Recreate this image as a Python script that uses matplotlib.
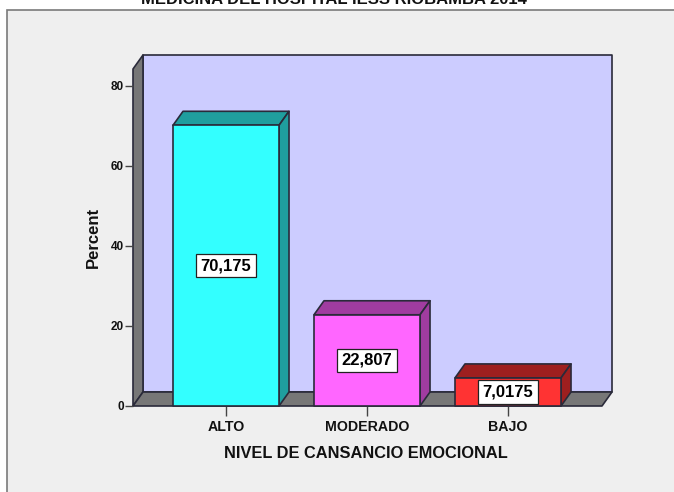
import matplotlib
matplotlib.use('Agg')
import matplotlib.pyplot as plt
from matplotlib.patches import Polygon, Rectangle

plt.rcParams['font.family'] = ['Liberation Sans', 'DejaVu Sans']

categories = ['ALTO', 'MODERADO', 'BAJO']
percent = [70.175, 22.807, 7.0175]
value_labels = ['70,175', '22,807', '7,0175']
front_colors = ['#33ffff', '#ff66ff', '#ff3333']
top_colors = ['#1f9e9e', '#a03ca0', '#9e1f1f']
side_colors = ['#1f9e9e', '#a03ca0', '#9e1f1f']
y_ticks = [0, 20, 40, 60, 80]
title = 'MEDICINA DEL HOSPITAL IESS RIOBAMBA 2014'
xlabel = 'NIVEL DE CANSANCIO EMOCIONAL'
ylabel = 'Percent'

W, H = 674, 492
fig = plt.figure(figsize=(W / 100, H / 100), dpi=100, facecolor='white')

# grey chart area behind everything
fig.add_artist(Rectangle((7 / W, -0.01), 1, (H - 10) / H + 0.01, transform=fig.transFigure,
                         facecolor='#efefef', edgecolor='#7a7a7a', linewidth=1.2, zorder=-1))

# front plane of the box, in pixels: x 133-602, y 69-406
ax = fig.add_axes([133 / W, (H - 406) / H, (602 - 133) / W, (406 - 69) / H])
ax.patch.set_visible(False)
x0, x1 = (133 - 226) / 141, (602 - 226) / 141
y0, y1 = 0, 84.25
ax.set_xlim(x0, x1)
ax.set_ylim(y0, y1)

dx, dy = 10 / 141, 3.5  # depth of the fake 3d
edge = '#2a2a3a'
lw = 1.2

def poly(pts, color, z=1):
    ax.add_patch(Polygon(pts, closed=True, facecolor=color, edgecolor=edge, linewidth=lw,
                         joinstyle='round', clip_on=False, zorder=z))

# back wall, side wall, floor
poly([(x0 + dx, y0 + dy), (x1 + dx, y0 + dy), (x1 + dx, y1 + dy), (x0 + dx, y1 + dy)], '#ccccff')
poly([(x0, y0), (x0 + dx, y0 + dy), (x0 + dx, y1 + dy), (x0, y1)], '#777777')
poly([(x0, y0), (x1, y0), (x1 + dx, y0 + dy), (x0 + dx, y0 + dy)], '#777777')

w = 0.376
for i, v in enumerate(percent):
    poly([(i - w, v), (i + w, v), (i + w + dx, v + dy), (i - w + dx, v + dy)], top_colors[i], 3)
    poly([(i + w, 0), (i + w + dx, dy), (i + w + dx, v + dy), (i + w, v)], side_colors[i], 3)
    poly([(i - w, 0), (i + w, 0), (i + w, v), (i - w, v)], front_colors[i], 3)
    ax.text(i, v / 2, value_labels[i], ha='center', va='center', fontsize=12, fontweight='bold',
            color='black', zorder=5,
            bbox=dict(boxstyle='square,pad=0.25', facecolor='white', edgecolor='#222222', linewidth=0.9))

for s in ax.spines.values():
    s.set_visible(False)
ax.set_xticks(range(len(categories)))
ax.set_xticklabels(categories, fontsize=10.2, fontweight='bold', color='#111111')
ax.set_yticks(y_ticks)
ax.set_yticklabels([str(t) for t in y_ticks], fontsize=8.5, fontweight='bold', color='#111111')
ax.tick_params(axis='x', length=7, width=1, color='#444444', pad=3)
ax.tick_params(axis='y', length=6, width=1, color='#444444', pad=0.5)

fig.text(366 / W, (H - 453) / H, xlabel, ha='center', va='center', fontsize=11.8, fontweight='bold', color='#111111')
fig.text(93 / W, (H - 237) / H, ylabel, ha='center', va='center', rotation=90, fontsize=12,
         fontweight='bold', color='#111111')
fig.text(334 / W, (H - 4) / H, title, ha='center', va='baseline', fontsize=12, fontweight='bold',
         color='#111111')

fig.savefig('out.png', dpi=100, facecolor='white')
